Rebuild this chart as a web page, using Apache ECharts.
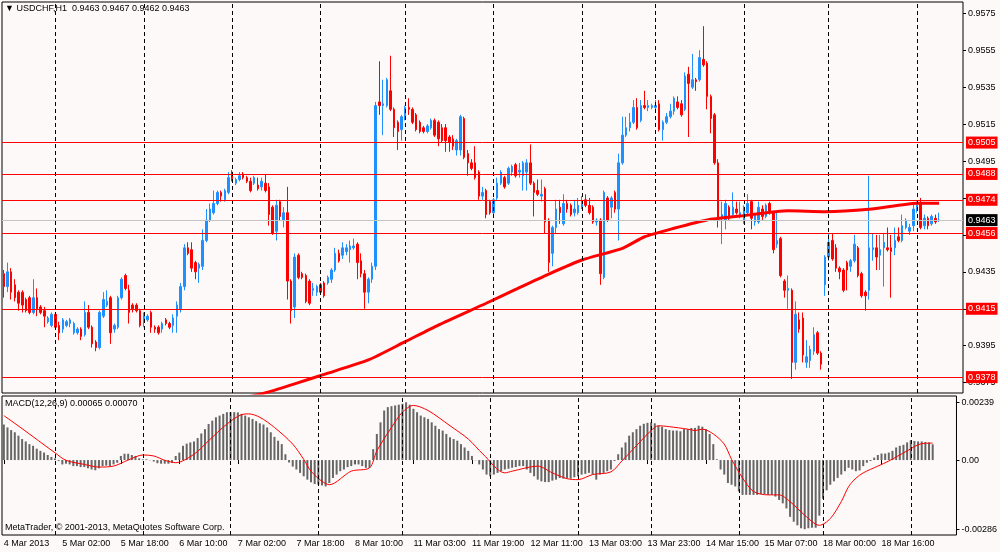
<!DOCTYPE html>
<html>
<head>
<meta charset="utf-8">
<title>USDCHF,H1</title>
<script src="https://cdn.jsdelivr.net/npm/echarts@6/dist/echarts.min.js"></script>
<style>
  html, body { margin: 0; padding: 0; background: #fcf9f8; }
  #chart { width: 1000px; height: 552px; }
</style>
</head>
<body>
<div id="chart"></div>
<script>
// x axis labels, one every 16 bars
var xLabels = ['4 Mar 2013', '5 Mar 02:00', '5 Mar 18:00', '6 Mar 10:00', '7 Mar 02:00', '7 Mar 18:00',
  '8 Mar 10:00', '11 Mar 03:00', '11 Mar 19:00', '12 Mar 11:00', '13 Mar 03:00', '13 Mar 23:00',
  '14 Mar 15:00', '15 Mar 07:00', '18 Mar 00:00', '18 Mar 16:00'];
var labelEvery = 16;

// first bar of each day (dashed separators)
var dayStarts = [14, 38, 62, 86, 109, 133, 157, 177, 201, 224, 248];

// price scale ticks and the MACD scale ticks
var yTicks = [0.9375, 0.9395, 0.9415, 0.9435, 0.9455, 0.9475, 0.9495, 0.9515, 0.9535, 0.9555, 0.9575];
var macdTicks = [-0.00286, 0, 0.00239];

// horizontal levels and current bid
var levelPrices = [0.9505, 0.9488, 0.9474, 0.9456, 0.9415, 0.9378];
var bidPrice = 0.9463;

// H1 bars
var opens = [
  0.9434,0.9427,0.9435,0.9428,0.9424,0.9424,0.9420,0.9421,0.9413,0.9421,
  0.9416,0.9414,0.9408,0.9406,0.9412,0.9406,0.9404,0.9406,0.9407,0.9402,
  0.9402,0.9404,0.9401,0.9413,0.9405,0.9397,0.9394,0.9411,0.9417,0.9421,
  0.9404,0.9405,0.9421,0.9433,0.9425,0.9417,0.9417,0.9414,0.9408,0.9409,
  0.9413,0.9405,0.9405,0.9404,0.9409,0.9407,0.9406,0.9411,0.9415,0.9427,
  0.9448,0.9447,0.9440,0.9437,0.9438,0.9452,0.9463,0.9467,0.9472,0.9478,
  0.9474,0.9478,0.9489,0.9483,0.9485,0.9488,0.9486,0.9484,0.9483,0.9482,
  0.9481,0.9483,0.9481,0.9470,0.9457,0.9473,0.9463,0.9467,0.9430,0.9416,
  0.9444,0.9434,0.9433,0.9430,0.9425,0.9424,0.9428,0.9429,0.9429,0.9431,
  0.9436,0.9445,0.9444,0.9446,0.9447,0.9448,0.9450,0.9441,0.9434,0.9424,
  0.9431,0.9438,0.9527,0.9525,0.9525,0.9533,0.9523,0.9516,0.9512,0.9519,
  0.9524,0.9523,0.9520,0.9516,0.9513,0.9511,0.9513,0.9517,0.9516,0.9513,
  0.9513,0.9508,0.9507,0.9501,0.9501,0.9518,0.9499,0.9494,0.9494,0.9489,
  0.9476,0.9479,0.9473,0.9467,0.9475,0.9483,0.9486,0.9483,0.9489,0.9493,
  0.9489,0.9487,0.9489,0.9494,0.9483,0.9479,0.9476,0.9480,0.9463,0.9445,
  0.9459,0.9470,0.9461,0.9472,0.9471,0.9467,0.9467,0.9470,0.9474,0.9471,
  0.9470,0.9462,0.9463,0.9432,0.9475,0.9470,0.9478,0.9469,0.9494,0.9509,
  0.9513,0.9516,0.9524,0.9517,0.9525,0.9524,0.9524,0.9524,0.9526,0.9512,
  0.9516,0.9519,0.9522,0.9527,0.9526,0.9523,0.9542,0.9535,0.9539,0.9539,
  0.9550,0.9548,0.9530,0.9520,0.9494,0.9464,0.9463,0.9470,0.9466,0.9469,
  0.9465,0.9462,0.9467,0.9473,0.9462,0.9462,0.9469,0.9465,0.9472,0.9467,
  0.9450,0.9453,0.9430,0.9425,0.9425,0.9386,0.9409,0.9410,0.9386,0.9387,
  0.9392,0.9402,0.9391,0.9428,0.9443,0.9452,0.9448,0.9437,0.9436,0.9440,
  0.9438,0.9441,0.9448,0.9434,0.9424,0.9425,0.9447,0.9448,0.9444,0.9448,
  0.9448,0.9448,0.9448,0.9454,0.9452,0.9459,0.9457,0.9460,0.9469,0.9472,
  0.9460,0.9464,0.9461,0.9464,0.9463
];
var highs = [
  0.9436,0.9440,0.9437,0.9431,0.9425,0.9425,0.9421,0.9422,0.9431,0.9426,
  0.9417,0.9416,0.9411,0.9413,0.9413,0.9408,0.9410,0.9409,0.9410,0.9408,
  0.9405,0.9405,0.9419,0.9417,0.9406,0.9398,0.9414,0.9424,0.9425,0.9422,
  0.9407,0.9422,0.9432,0.9434,0.9428,0.9418,0.9418,0.9415,0.9413,0.9412,
  0.9414,0.9406,0.9406,0.9408,0.9410,0.9408,0.9412,0.9419,0.9429,0.9450,
  0.9451,0.9451,0.9441,0.9440,0.9458,0.9469,0.9472,0.9479,0.9479,0.9479,
  0.9480,0.9489,0.9490,0.9486,0.9489,0.9489,0.9487,0.9486,0.9487,0.9486,
  0.9486,0.9488,0.9483,0.9471,0.9474,0.9474,0.9470,0.9481,0.9431,0.9445,
  0.9445,0.9435,0.9434,0.9431,0.9429,0.9428,0.9429,0.9430,0.9433,0.9437,
  0.9448,0.9447,0.9451,0.9450,0.9452,0.9453,0.9451,0.9445,0.9436,0.9432,
  0.9440,0.9527,0.9549,0.9539,0.9540,0.9552,0.9524,0.9517,0.9520,0.9525,
  0.9529,0.9524,0.9521,0.9517,0.9514,0.9515,0.9518,0.9518,0.9517,0.9515,
  0.9515,0.9509,0.9509,0.9507,0.9520,0.9519,0.9501,0.9496,0.9503,0.9490,
  0.9481,0.9480,0.9474,0.9475,0.9486,0.9490,0.9487,0.9492,0.9493,0.9494,
  0.9494,0.9495,0.9496,0.9504,0.9484,0.9485,0.9485,0.9481,0.9464,0.9460,
  0.9474,0.9474,0.9477,0.9474,0.9472,0.9474,0.9475,0.9476,0.9477,0.9475,
  0.9471,0.9464,0.9464,0.9479,0.9476,0.9476,0.9479,0.9499,0.9519,0.9519,
  0.9521,0.9528,0.9529,0.9528,0.9533,0.9528,0.9526,0.9528,0.9528,0.9517,
  0.9521,0.9526,0.9530,0.9530,0.9528,0.9543,0.9546,0.9553,0.9540,0.9555,
  0.9568,0.9549,0.9531,0.9521,0.9496,0.9473,0.9474,0.9471,0.9478,0.9473,
  0.9473,0.9471,0.9477,0.9474,0.9467,0.9473,0.9471,0.9472,0.9473,0.9468,
  0.9467,0.9454,0.9431,0.9433,0.9426,0.9419,0.9413,0.9413,0.9398,0.9395,
  0.9405,0.9403,0.9392,0.9444,0.9456,0.9456,0.9450,0.9438,0.9437,0.9441,
  0.9442,0.9455,0.9449,0.9435,0.9425,0.9487,0.9456,0.9455,0.9455,0.9456,
  0.9459,0.9455,0.9459,0.9459,0.9466,0.9464,0.9461,0.9472,0.9473,0.9475,
  0.9466,0.9465,0.9466,0.9466,0.9467
];
var lows = [
  0.9421,0.9424,0.9420,0.9419,0.9414,0.9413,0.9413,0.9412,0.9412,0.9411,
  0.9412,0.9405,0.9407,0.9405,0.9404,0.9398,0.9402,0.9405,0.9405,0.9401,
  0.9401,0.9398,0.9400,0.9404,0.9394,0.9392,0.9393,0.9410,0.9416,0.9396,
  0.9402,0.9404,0.9420,0.9425,0.9407,0.9413,0.9413,0.9405,0.9405,0.9408,
  0.9402,0.9402,0.9401,0.9402,0.9406,0.9404,0.9402,0.9402,0.9413,0.9425,
  0.9444,0.9435,0.9431,0.9429,0.9436,0.9451,0.9462,0.9466,0.9471,0.9473,
  0.9473,0.9477,0.9484,0.9482,0.9484,0.9485,0.9483,0.9478,0.9482,0.9479,
  0.9479,0.9478,0.9460,0.9455,0.9452,0.9463,0.9459,0.9420,0.9407,0.9410,
  0.9431,0.9431,0.9418,0.9417,0.9422,0.9422,0.9423,0.9421,0.9428,0.9429,
  0.9435,0.9440,0.9442,0.9444,0.9440,0.9447,0.9431,0.9432,0.9415,0.9418,
  0.9429,0.9436,0.9520,0.9509,0.9524,0.9522,0.9508,0.9501,0.9506,0.9517,
  0.9520,0.9515,0.9511,0.9510,0.9510,0.9510,0.9512,0.9508,0.9503,0.9505,
  0.9500,0.9500,0.9501,0.9498,0.9498,0.9496,0.9487,0.9490,0.9485,0.9474,
  0.9474,0.9464,0.9466,0.9465,0.9474,0.9482,0.9480,0.9482,0.9487,0.9486,
  0.9486,0.9479,0.9479,0.9482,0.9465,0.9476,0.9473,0.9456,0.9435,0.9438,
  0.9456,0.9461,0.9460,0.9467,0.9465,0.9465,0.9466,0.9469,0.9470,0.9466,
  0.9461,0.9460,0.9428,0.9431,0.9462,0.9464,0.9467,0.9452,0.9493,0.9508,
  0.9511,0.9515,0.9512,0.9516,0.9523,0.9522,0.9523,0.9523,0.9511,0.9506,
  0.9515,0.9518,0.9520,0.9523,0.9519,0.9522,0.9508,0.9534,0.9533,0.9538,
  0.9546,0.9523,0.9510,0.9493,0.9459,0.9450,0.9458,0.9463,0.9465,0.9466,
  0.9464,0.9461,0.9466,0.9458,0.9460,0.9461,0.9463,0.9464,0.9466,0.9445,
  0.9448,0.9432,0.9421,0.9415,0.9377,0.9382,0.9402,0.9386,0.9383,0.9383,
  0.9390,0.9390,0.9382,0.9422,0.9441,0.9441,0.9435,0.9431,0.9424,0.9425,
  0.9435,0.9440,0.9432,0.9421,0.9414,0.9420,0.9441,0.9436,0.9436,0.9427,
  0.9446,0.9421,0.9444,0.9451,0.9451,0.9458,0.9455,0.9457,0.9467,0.9458,
  0.9458,0.9458,0.9460,0.9461,0.9462
];
var closes = [
  0.9427,0.9435,0.9424,0.9421,0.9418,0.9417,0.9414,0.9413,0.9421,0.9415,
  0.9413,0.9411,0.9410,0.9412,0.9405,0.9402,0.9409,0.9408,0.9409,0.9407,
  0.9404,0.9400,0.9413,0.9405,0.9396,0.9394,0.9413,0.9420,0.9419,0.9402,
  0.9406,0.9421,0.9431,0.9426,0.9413,0.9415,0.9414,0.9406,0.9412,0.9411,
  0.9405,0.9404,0.9402,0.9407,0.9407,0.9405,0.9410,0.9417,0.9427,0.9448,
  0.9445,0.9437,0.9435,0.9439,0.9452,0.9463,0.9469,0.9472,0.9478,0.9476,
  0.9479,0.9486,0.9485,0.9485,0.9487,0.9486,0.9484,0.9479,0.9486,0.9480,
  0.9484,0.9479,0.9466,0.9456,0.9471,0.9465,0.9467,0.9430,0.9414,0.9443,
  0.9432,0.9432,0.9419,0.9418,0.9426,0.9427,0.9424,0.9422,0.9432,0.9436,
  0.9445,0.9441,0.9448,0.9448,0.9449,0.9449,0.9440,0.9434,0.9424,0.9431,
  0.9438,0.9525,0.9525,0.9526,0.9539,0.9523,0.9513,0.9511,0.9519,0.9524,
  0.9523,0.9516,0.9512,0.9511,0.9511,0.9514,0.9517,0.9509,0.9507,0.9506,
  0.9506,0.9505,0.9503,0.9506,0.9519,0.9497,0.9494,0.9491,0.9486,0.9476,
  0.9478,0.9466,0.9467,0.9474,0.9483,0.9489,0.9481,0.9491,0.9492,0.9487,
  0.9490,0.9494,0.9494,0.9483,0.9478,0.9477,0.9477,0.9462,0.9440,0.9459,
  0.9469,0.9467,0.9472,0.9469,0.9466,0.9469,0.9471,0.9472,0.9471,0.9467,
  0.9462,0.9463,0.9434,0.9478,0.9463,0.9475,0.9469,0.9494,0.9509,0.9513,
  0.9516,0.9524,0.9513,0.9525,0.9524,0.9525,0.9525,0.9525,0.9512,0.9516,
  0.9519,0.9522,0.9529,0.9524,0.9520,0.9541,0.9537,0.9539,0.9538,0.9551,
  0.9547,0.9530,0.9518,0.9494,0.9463,0.9466,0.9472,0.9464,0.9470,0.9467,
  0.9467,0.9470,0.9472,0.9464,0.9466,0.9470,0.9465,0.9471,0.9467,0.9447,
  0.9452,0.9433,0.9425,0.9426,0.9386,0.9412,0.9404,0.9390,0.9389,0.9393,
  0.9401,0.9391,0.9385,0.9443,0.9451,0.9442,0.9437,0.9435,0.9425,0.9436,
  0.9441,0.9450,0.9433,0.9422,0.9422,0.9448,0.9448,0.9443,0.9447,0.9451,
  0.9447,0.9446,0.9452,0.9452,0.9460,0.9463,0.9459,0.9469,0.9472,0.9459,
  0.9464,0.9460,0.9465,0.9462,0.9463
];

// moving average, read at a few bars
var maBars = [60, 66, 72, 80, 87, 99, 109, 118, 131, 139, 148, 157, 168, 174, 182, 191, 200, 213, 223, 235, 248, 254];
var maValues = [0.9362, 0.9367, 0.93700, 0.9375, 0.93795, 0.93873, 0.93972, 0.94062, 0.9418, 0.94255, 0.94338,
  0.94414, 0.94477, 0.9454, 0.94586, 0.94631, 0.94652, 0.94681, 0.94676, 0.94689, 0.94721, 0.94722];

// MACD(12,26,9) main histogram, one value per bar
var macdHist = [
  0.00147,0.00135,0.00124,0.00115,0.00101,0.00087,0.00077,0.00066,0.00059,0.00047,
  0.00038,0.00031,0.00021,0.00013,0.00007,-0.00004,-0.00018,-0.00015,-0.00018,-0.00025,
  -0.00025,-0.00029,-0.00029,-0.00034,-0.00039,-0.00042,-0.00034,-0.00025,-0.00023,-0.00025,
  -0.00018,-0.00011,0.00017,0.00026,0.00026,0.00021,0.00017,0.00007,0.00003,0.00003,
  -0.00001,-0.00006,-0.00013,-0.00015,-0.00015,-0.00015,-0.00011,0.00017,0.00031,0.00059,
  0.00068,0.00073,0.00077,0.00091,0.00110,0.00128,0.00149,0.00163,0.00177,0.00184,
  0.00191,0.00198,0.00198,0.00198,0.00197,0.00191,0.00184,0.00177,0.00170,0.00161,
  0.00152,0.00147,0.00135,0.00115,0.00096,0.00080,0.00066,0.00024,-0.00010,-0.00027,
  -0.00039,-0.00053,-0.00067,-0.00081,-0.00092,-0.00099,-0.00102,-0.00105,-0.00109,-0.00095,
  -0.00074,-0.00060,-0.00046,-0.00039,-0.00029,-0.00025,-0.00018,-0.00018,-0.00025,-0.00032,
  -0.00032,0.00045,0.00108,0.00156,0.00205,0.00219,0.00223,0.00226,0.00229,0.00233,
  0.00239,0.00229,0.00212,0.00198,0.00184,0.00177,0.00170,0.00156,0.00142,0.00128,
  0.00122,0.00108,0.00094,0.00087,0.00080,0.00066,0.00052,0.00038,0.00017,-0.00001,
  -0.00018,-0.00039,-0.00060,-0.00067,-0.00060,-0.00053,-0.00046,-0.00039,-0.00036,-0.00032,
  -0.00029,-0.00025,-0.00025,-0.00039,-0.00053,-0.00067,-0.00081,-0.00088,-0.00091,-0.00091,
  -0.00085,-0.00081,-0.00074,-0.00077,-0.00074,-0.00077,-0.00071,-0.00067,-0.00060,-0.00057,
  -0.00053,-0.00060,-0.00081,-0.00060,-0.00053,-0.00046,-0.00039,-0.00004,0.00024,0.00052,
  0.00073,0.00101,0.00115,0.00128,0.00142,0.00150,0.00154,0.00156,0.00152,0.00142,
  0.00138,0.00128,0.00124,0.00122,0.00122,0.00119,0.00128,0.00128,0.00133,0.00133,
  0.00142,0.00138,0.00128,0.00108,0.00066,0.00003,-0.00039,-0.00060,-0.00095,-0.00102,
  -0.00109,-0.00130,-0.00144,-0.00144,-0.00144,-0.00144,-0.00144,-0.00141,-0.00141,-0.00144,
  -0.00144,-0.00151,-0.00165,-0.00179,-0.00200,-0.00235,-0.00255,-0.00270,-0.00282,-0.00286,
  -0.00282,-0.00280,-0.00280,-0.00230,-0.00160,-0.00125,-0.00102,-0.00088,-0.00074,-0.00060,
  -0.00046,-0.00032,-0.00039,-0.00046,-0.00043,-0.00025,-0.00011,-0.00004,0.00010,0.00021,
  0.00027,0.00027,0.00031,0.00038,0.00052,0.00059,0.00063,0.00073,0.00082,0.00079,
  0.00077,0.00077,0.00075,0.00073,0.00065
];

// MACD signal line, read at a few bars
var sigBars = [0, 5, 14, 17, 22, 26, 30, 34, 38, 41, 44, 47, 52, 56, 61, 65, 67, 70, 74, 79,
  82, 84, 87, 89, 95, 100, 102, 106, 109, 112, 116, 122, 127, 131, 137, 139, 146, 150, 154, 157,
  161, 166, 169, 173, 177, 179, 182, 187, 189, 191, 194, 197, 199, 202, 205, 209, 212, 215, 219, 223,
  226, 229, 231, 233, 235, 239, 242, 247, 251, 254];
var sigValues = [0.00184, 0.00130, 0.00030, -0.00001, -0.00018, -0.00029, -0.00025, 0.00000, 0.00021, 0.00017,
  -0.00001, -0.00011, 0.00024, 0.00080, 0.00149, 0.00188, 0.00191, 0.00177, 0.00135, 0.00066,
  0.00003, -0.00046, -0.00088, -0.00102, -0.00046, -0.00032, 0.00038, 0.00135, 0.00198, 0.00226,
  0.00205, 0.00142, 0.00087, 0.00025, -0.00053, -0.00046, -0.00025, -0.00053, -0.00077, -0.00081,
  -0.00060, -0.00049, -0.00004, 0.00060, 0.00122, 0.00142, 0.00138, 0.00128, 0.00122, 0.00128,
  0.00108, 0.00066, 0.00003, -0.00074, -0.00130, -0.00144, -0.00144, -0.00172, -0.00228, -0.00270,
  -0.00242, -0.00172, -0.00110, -0.00075, -0.00053, -0.00025, -0.00004, 0.00038, 0.00068, 0.00070];

var FONT = 'Liberation Sans';
var BLUE = '#1e90ff';
var RED = '#ff0000';

var chart = echarts.init(document.getElementById('chart'));

// category slots: the bars plus some empty room on the right
var slotCount = opens.length + 6;
var cats = [];
for (var i = 0; i < slotCount; i++) {
  cats.push(String(i));
}

var candles = [];
for (var j = 0; j < opens.length; j++) {
  candles.push([opens[j], closes[j], lows[j], highs[j]]);
}

function pairs(bars, values) {
  return bars.map(function (b, k) { return [b, values[k]]; });
}

function showLabelAt(index) {
  return index % labelEvery === 0 && index / labelEvery < xLabels.length;
}

function dayLines() {
  return dayStarts.map(function (d) {
    return { xAxis: d, lineStyle: { color: '#000', width: 1, type: [4, 3] } };
  });
}

function levelLine(price, lineColor, boxColor) {
  return {
    yAxis: price,
    lineStyle: { color: lineColor, width: 1, type: 'solid' },
    label: {
      show: true,
      position: 'end',
      distance: 3,
      formatter: price.toFixed(4),
      color: '#fff',
      backgroundColor: boxColor,
      padding: [2, 2, 1, 2],
      fontFamily: FONT,
      fontSize: 9
    }
  };
}

var mainMarks = dayLines();
mainMarks.push(levelLine(bidPrice, '#c4c4c4', '#000'));
levelPrices.forEach(function (p) {
  mainMarks.push(levelLine(p, RED, RED));
});

var textStyle = { fontFamily: FONT, fontSize: 9, fontWeight: 'normal', color: '#000' };

var option = {
  animation: false,
  backgroundColor: '#fcf9f8',
  title: [
    { text: '\u25BC USDCHF,H1  0.9463 0.9467 0.9462 0.9463', left: 5, top: 4, padding: 0, textStyle: textStyle },
    { text: 'MACD(12,26,9) 0.00065 0.00070', left: 5, top: 399, padding: 0, textStyle: textStyle },
    { text: 'MetaTrader, \u00A9 2001-2013, MetaQuotes Software Corp.', left: 5, top: 523, padding: 0, textStyle: textStyle }
  ],
  grid: [
    { left: 2, right: 37, top: 2, height: 391, show: true, borderColor: '#000', borderWidth: 1 },
    { left: 2, right: 37, top: 396, height: 139, show: true, borderColor: '#000', borderWidth: 1 }
  ],
  xAxis: [
    {
      type: 'category', gridIndex: 0, data: cats, boundaryGap: true,
      axisLine: { show: false }, axisTick: { show: false }, axisLabel: { show: false }, splitLine: { show: false }
    },
    {
      type: 'category', gridIndex: 1, data: cats, boundaryGap: true,
      axisLine: { show: false },
      axisTick: { show: true, alignWithLabel: true, length: 4, interval: showLabelAt, lineStyle: { color: '#000' } },
      axisLabel: {
        interval: showLabelAt,
        align: 'left',
        margin: 4,
        color: '#000',
        fontFamily: FONT,
        fontSize: 9,
        formatter: function (value) {
          return xLabels[Number(value) / labelEvery] || '';
        }
      },
      splitLine: { show: false }
    }
  ],
  yAxis: [
    {
      type: 'value', gridIndex: 0, position: 'right',
      min: 0.93694, max: 0.95811,
      splitLine: { show: false },
      axisLine: { show: false },
      axisTick: { show: true, length: 3, customValues: yTicks, lineStyle: { color: '#000' } },
      axisLabel: {
        customValues: yTicks, margin: 5, color: '#000', fontFamily: FONT, fontSize: 9,
        formatter: function (v) { return v.toFixed(4); }
      }
    },
    {
      type: 'value', gridIndex: 1, position: 'right',
      min: -0.00310, max: 0.00265,
      splitLine: { show: false },
      axisLine: { show: false },
      axisTick: { show: true, length: 3, customValues: macdTicks, lineStyle: { color: '#000' } },
      axisLabel: {
        customValues: macdTicks, margin: 5, color: '#000', fontFamily: FONT, fontSize: 9,
        formatter: function (v) { return v === 0 ? '0.00' : v.toFixed(5); }
      }
    }
  ],
  series: [
    {
      // carries the separators and the level lines, kept under the candles
      name: 'levels', type: 'line', xAxisIndex: 0, yAxisIndex: 0, z: 1,
      data: closes, symbol: 'none', silent: true,
      lineStyle: { opacity: 0 },
      markLine: { silent: true, precision: 5, symbol: ['none', 'none'], label: { show: false }, data: mainMarks }
    },
    {
      name: 'USDCHF', type: 'candlestick', xAxisIndex: 0, yAxisIndex: 0, z: 2,
      data: candles, barWidth: 2,
      itemStyle: { color: BLUE, color0: RED, borderColor: BLUE, borderColor0: RED, borderWidth: 1 }
    },
    {
      name: 'MA', type: 'line', xAxisIndex: 0, yAxisIndex: 0, z: 3,
      data: pairs(maBars, maValues), symbol: 'none', smooth: 0.2,
      lineStyle: { color: RED, width: 3 }
    },
    {
      name: 'sep2', type: 'line', xAxisIndex: 1, yAxisIndex: 1, z: 1,
      data: macdHist, symbol: 'none', silent: true,
      lineStyle: { opacity: 0 },
      markLine: { silent: true, symbol: ['none', 'none'], label: { show: false }, data: dayLines() }
    },
    {
      name: 'MACD', type: 'bar', xAxisIndex: 1, yAxisIndex: 1, z: 2,
      data: macdHist, barWidth: 2,
      itemStyle: { color: '#666666' }
    },
    {
      name: 'Signal', type: 'line', xAxisIndex: 1, yAxisIndex: 1, z: 3,
      data: pairs(sigBars, sigValues), symbol: 'none', smooth: 0.3,
      lineStyle: { color: RED, width: 1 }
    }
  ]
};

chart.setOption(option);
</script>
</body>
</html>
